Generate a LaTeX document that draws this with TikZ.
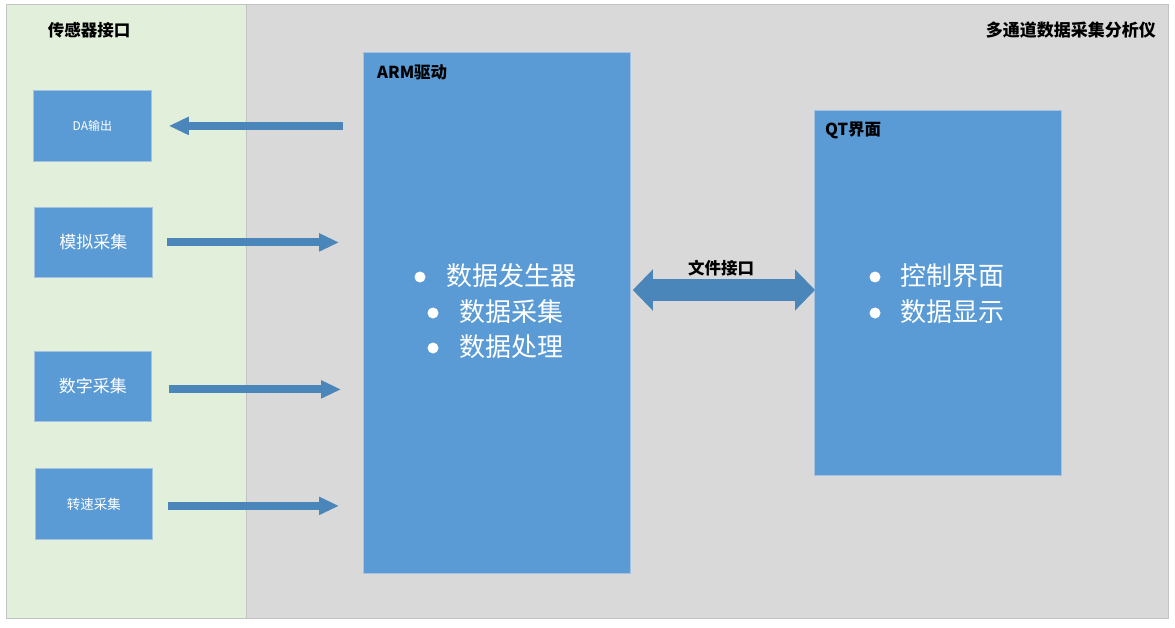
\documentclass[tikz,border=0pt]{standalone}
\usepackage{fontspec}
\setmainfont{Noto Sans CJK SC}
\usetikzlibrary{arrows.meta}
\definecolor{panelgreen}{RGB}{226,239,218}
\definecolor{panelgray}{RGB}{217,217,217}
\definecolor{boxblue}{RGB}{91,155,213}
\definecolor{arrowblue}{RGB}{74,134,186}
\definecolor{boxedge}{RGB}{165,195,225}
\definecolor{paneledge}{RGB}{195,195,195}
\begin{document}
\begin{tikzpicture}[x=1pt,y=-1pt,
  panel/.style={draw=paneledge, line width=1pt, inner sep=0pt, anchor=north west},
  bluebox/.style={draw=boxedge, fill=boxblue, line width=0.8pt, inner sep=0pt, anchor=north west, text=white},
  titletext/.style={font=\fontsize{16.5}{18}\selectfont\bfseries, inner sep=0pt},
  itemtext/.style={font=\fontsize{26}{28}\selectfont, text=white, anchor=west, inner sep=0pt},
  bulletdot/.style={fill=white, circle, minimum size=11pt, inner sep=0pt},
  flow/.style={draw=arrowblue, line width=8pt, -{Triangle[length=20pt,width=17pt]}},
  bigflow/.style={draw=arrowblue, line width=22pt, {Triangle[length=20pt,width=40pt]}-{Triangle[length=20pt,width=40pt]}}
]
\useasboundingbox (0,0) rectangle (1175,628);
\fill[white] (0,0) rectangle (1175,628);

% panels
\node[panel, fill=panelgreen, minimum width=240pt, minimum height=614pt] (sensor) at (6,4) {};
\node[panel, fill=panelgray, minimum width=922pt, minimum height=614pt] (device) at (246,4) {};

\node[titletext] (sensortitle) at (89,30) {传感器接口};
\node[titletext, anchor=east, font=\fontsize{17}{18}\selectfont\bfseries] (devicetitle) at (1156,30) {多通道数据采集分析仪};

% sensor boxes
\node[bluebox, minimum width=118pt, minimum height=71pt, font=\fontsize{12}{14}\selectfont] (da) at (33,90) {DA输出};
\node[bluebox, minimum width=118pt, minimum height=70pt, font=\fontsize{17}{18}\selectfont] (mn) at (34,207) {模拟采集};
\node[bluebox, minimum width=117pt, minimum height=70pt, font=\fontsize{17}{18}\selectfont] (sz) at (34,351) {数字采集};
\node[bluebox, minimum width=117pt, minimum height=71pt, font=\fontsize{13.5}{15}\selectfont] (zs) at (35,468) {转速采集};

% ARM box
\node[bluebox, minimum width=267pt, minimum height=521pt] (arm) at (363,52) {};
\node[titletext, anchor=west] (armtitle) at (377,72) {ARM驱动};
\node[bulletdot] (b1) at (420,277) {};
\node[itemtext] (i1) at (446,276) {数据发生器};
\node[bulletdot] (b2) at (433,313) {};
\node[itemtext] (i2) at (459,312) {数据采集};
\node[bulletdot] (b3) at (433,348) {};
\node[itemtext] (i3) at (459,347) {数据处理};

% QT box
\node[bluebox, minimum width=247pt, minimum height=365pt] (qt) at (814,110) {};
\node[titletext, anchor=west] (qttitle) at (825,130) {QT界面};
\node[bulletdot] (b4) at (875,277) {};
\node[itemtext] (i4) at (900,276) {控制界面};
\node[bulletdot] (b5) at (875,313) {};
\node[itemtext] (i5) at (900,312) {数据显示};

% arrows
\draw[flow] ([xshift=-20pt]arm.west |- da.center) -- ([xshift=17pt]da.east);
\draw[flow] ([xshift=14pt]mn.east) -- ([xshift=-24pt]arm.west |- mn.east);
\draw[flow] ([xshift=17pt,yshift=-3pt]sz.east) -- ([xshift=-22pt,yshift=-3pt]arm.west |- sz.east);
\draw[flow] ([xshift=15pt,yshift=-2pt]zs.east) -- ([xshift=-24pt,yshift=-2pt]arm.west |- zs.east);
\draw[bigflow] ([xshift=2pt]arm.east |- 0,290) -- ([xshift=1pt]qt.west |- 0,290);
\node[titletext] (filelabel) at (721,268) {文件接口};
\end{tikzpicture}
\end{document}
